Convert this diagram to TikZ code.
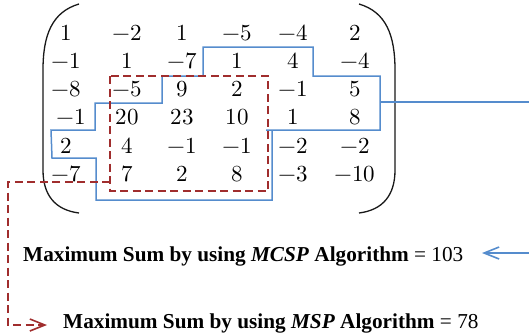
\documentclass[tikz,border=0pt]{standalone}
\usepackage{fontspec}
\setmainfont{Liberation Serif}
\usepackage{unicode-math}
\usetikzlibrary{arrows.meta}
\definecolor{cblue}{RGB}{85,140,205}
\definecolor{cred}{RGB}{160,45,45}
\tikzset{
  entry/.style={anchor=base,inner sep=0pt,font=\fontsize{23}{23}\selectfont},
  paren/.style={line width=1.3pt,black!90},
  bluel/.style={cblue,line width=1.5pt},
  redl/.style={cred,line width=2pt,dash pattern=on 8pt off 4.5pt},
  lbl/.style={anchor=base west,inner sep=0pt,font=\fontsize{21.25}{21.25}\selectfont},
  tip/.style={-{Straight Barb[length=15pt,width=12pt,line width=1.6pt]}}
}
\begin{document}
\begin{tikzpicture}[x=1pt,y=-1pt]
\useasboundingbox (0,0) rectangle (529,335);
\clip (0,0) rectangle (529,335);
% parentheses
\draw[paren] (79,4) .. controls (52,12) and (43,35) .. (43,70) -- (43,170) .. controls (43,195) and (55,210) .. (79,213);
\draw[paren] (359,4) .. controls (386,12) and (395,35) .. (395,70) -- (395,170) .. controls (395,195) and (383,210) .. (359,213);
% entries
\foreach \row [count=\i] in {{1,-2,1,-5,-4,2},{-1,1,-7,1,4,-4},{-8,-5,9,2,-1,5},{-1,20,23,10,1,8},{2,4,-1,-1,-2,-2},{-7,7,2,8,-3,-10}}{
  \foreach \v [count=\j] in \row {
    \pgfmathsetmacro{\xx}{{66,127,182,237,293,355}[\j-1]}
    \pgfmathsetmacro{\dx}{(\i==4 && \j==1) ? 5 : 0}
    \node[entry] (m\i\j) at ({\xx+\dx},{40+28.3*(\i-1)}) {$\v$};
  }
}
% blue MCSP region
\draw[bluel] (266,130) -- (380,130) -- (380,76) -- (313,76) -- (313,47) -- (203,47)
  -- (203,76) -- (162,76) -- (162,103) -- (95,103) -- (95,130) -- (51,130)
  -- (52,158) -- (96,158) -- (96,200) -- (272,200) -- (272,130);
% red MSP region
\draw[redl] (110,76) rectangle (268,191);
% labels
\node[lbl] (mcsp) at (23,261) {\textbf{Maximum Sum by using \textit{MCSP} Algorithm} = 103};
\node[lbl] (msp) at (63,328) {\textbf{Maximum Sum by using \textit{MSP} Algorithm} = 78};
% connectors
\coordinate (bstart) at (380,102);
\coordinate (bturn) at (545,102);
\coordinate (btip) at (482,253);
\draw[bluel,tip] (bstart) -- (bturn) |- (btip);
\coordinate (rstart) at (110,182);
\coordinate (rturn) at (8,182);
\coordinate (rtip) at (47,325);
\draw[redl,tip] (rstart) -- (rturn) |- (rtip);
\end{tikzpicture}
\end{document}
